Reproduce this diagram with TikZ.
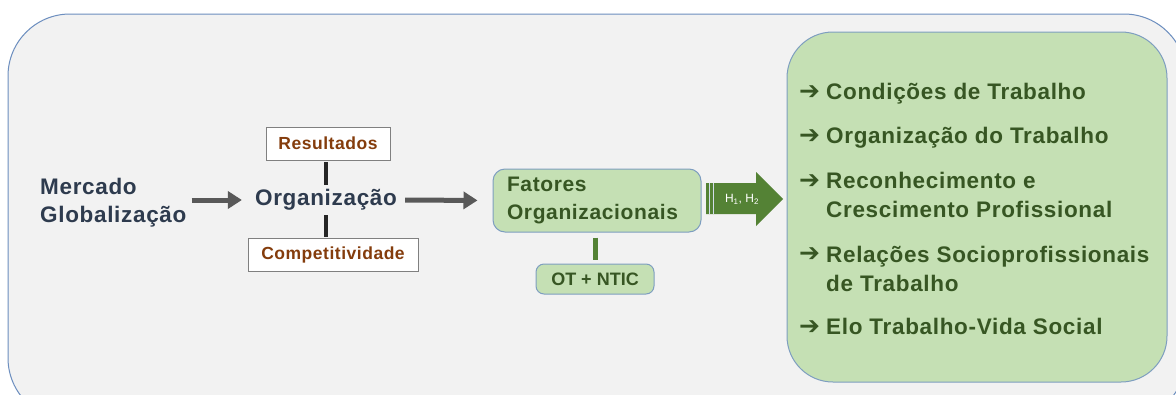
\documentclass[tikz,border=0pt]{standalone}
\usepackage{fontspec}
\setmainfont{Liberation Sans}
\newfontfamily\spfont[LetterSpace=3]{Liberation Sans}
\newfontfamily\dvfont{DejaVu Sans}
\usetikzlibrary{arrows.meta}
\definecolor{bgc}{HTML}{F2F2F2}
\definecolor{outerb}{HTML}{6C8EBF}
\definecolor{gfill}{HTML}{C5E0B4}
\definecolor{gbord}{HTML}{7E9EC0}
\definecolor{gtext}{HTML}{375623}
\definecolor{garrow}{HTML}{548235}
\definecolor{navy}{HTML}{2E3B4E}
\definecolor{brownt}{HTML}{843C0C}
\definecolor{greyarr}{HTML}{595959}
\definecolor{blk}{HTML}{262626}
\tikzset{
  navytext/.style={text=navy, font=\spfont\bfseries\fontsize{22.5}{28}\selectfont, inner sep=0pt},
  brownbox/.style={draw=gray, line width=0.8pt, fill=white, text=brownt, font=\spfont\bfseries\fontsize{17.5}{21}\selectfont, inner sep=0pt},
  greenbox/.style={draw=gbord, line width=1pt, fill=gfill, rounded corners=12pt, text=gtext, inner sep=0pt},
  itemtext/.style={text=gtext, font=\spfont\bfseries\fontsize{22.5}{29}\selectfont, align=left, inner sep=0pt, anchor=base west},
  itemarrow/.style={text=gtext, font=\dvfont\bfseries\fontsize{25}{25}\selectfont, inner sep=0pt, anchor=base west},
  greyarrow/.style={draw=greyarr, line width=5pt, -{Triangle[length=14pt,width=17pt]}},
  blkline/.style={draw=blk, line width=4pt},
  grline/.style={draw=garrow, line width=5pt}
}
\begin{document}
\begin{tikzpicture}[x=1pt,y=-1pt]
\useasboundingbox (0,0) rectangle (1176,394);
\clip (0,0) rectangle (1176,394);
\fill[white] (0,0) rectangle (1176,394);
% outer panel
\draw[fill=bgc, draw=outerb, line width=1pt, rounded corners=62pt] (8,14) rectangle (1186,420);
% right green panel
\draw[fill=gfill, draw=gbord, line width=1pt, rounded corners=46pt] (787,32) rectangle (1167,382);

% left part
\node[navytext, align=left, anchor=base west] (merc) at (40,222) {Mercado\\Globalização};
\node[navytext, minimum height=30pt] (org) at (326,200) {Organização};
\node[brownbox, minimum width=124pt, minimum height=33pt] (res) at (328,143.5) {Resultados};
\node[brownbox, minimum width=170pt, minimum height=33pt] (comp) at (333,254.5) {Competitividade};
\draw[blkline, shorten <=2pt] (res.south -| org.north) -- (org.north);
\draw[blkline, shorten >=1pt] (org.south) -- (org.south |- comp.north);
\draw[greyarrow, shorten <=5pt, shorten >=13pt] (merc.east |- org.west) -- (org.west);

% Fatores
\node[greenbox, minimum width=208pt, minimum height=63pt, text width=180pt, align=left,
      font=\spfont\bfseries\fontsize{21}{28}\selectfont] (fat) at (597,200.5) {Fatores\\Organizacionais};
\draw[greyarrow, shorten <=8pt, shorten >=15pt] (org.east) -- (fat.west);
\node[greenbox, rounded corners=8pt, minimum width=118pt, minimum height=30pt,
      font=\bfseries\fontsize{18}{22}\selectfont] (ot) at (595,279) {OT + NTIC};
\draw[grline, shorten <=5pt, shorten >=4pt] (fat.south -| ot.north) -- (ot.north);

% big striped arrow
\fill[garrow] (706,183) -- (756,183) -- (756,172) -- (783,199) -- (756,226) -- (756,214) -- (706,214) -- cycle;
\draw[white!70!outerb, line width=1pt] (709,183) -- (709,214);
\draw[white!70!outerb, line width=1pt] (713,183) -- (713,214);
\node[text=white, font=\fontsize{12}{14}\selectfont, inner sep=0pt] (h) at (742,199) {H\textsubscript{1}, H\textsubscript{2}};

% items
\node[itemarrow] (a1) at (799,99) {➔};
\node[itemtext] (t1) at (826,99) {Condições de Trabalho};
\node[itemarrow] (a2) at (799,143) {➔};
\node[itemtext] (t2) at (826,143) {Organização do Trabalho};
\node[itemarrow] (a3) at (799,188) {➔};
\node[itemtext] (t3) at (826,217) {Reconhecimento e\\Crescimento Profissional};
\node[itemarrow] (a4) at (799,261) {➔};
\node[itemtext] (t4) at (826,291) {Relações Socioprofissionais\\de Trabalho};
\node[itemarrow] (a5) at (799,334) {➔};
\node[itemtext] (t5) at (826,334) {Elo Trabalho-Vida Social};
\end{tikzpicture}
\end{document}
